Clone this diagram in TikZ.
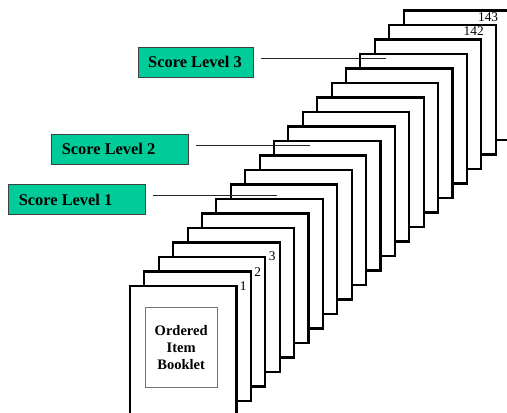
\documentclass[tikz,border=0pt]{standalone}
\usepackage{fontspec}
\setmainfont{Liberation Serif}
\usetikzlibrary{calc}
\definecolor{levelgreen}{HTML}{00CC99}
\begin{document}
\begin{tikzpicture}[x=0.75pt,y=-0.75pt,
  page/.style={draw=black, line width=1.6pt, fill=white, rectangle,
    inner sep=0pt, outer sep=0pt, minimum width=79.875pt, minimum height=97.125pt},
  pagenum/.style={inner sep=0pt, font=\fontsize{10}{12}\selectfont},
  level/.style={draw=black!75, line width=0.75pt, fill=levelgreen, rectangle,
    minimum height=22.5pt, inner xsep=7.5pt, inner ysep=0pt, anchor=west,
    font=\fontsize{12.3}{14}\selectfont\bfseries},
  booklet/.style={draw=black!55, line width=0.75pt, rectangle, inner sep=0pt,
    minimum width=54.2pt, minimum height=59.7pt, align=center,
    font=\fontsize{10.9}{12.75}\selectfont\bfseries},
  leader/.style={draw=black!85, line width=0.8pt}]
\path[use as bounding box] (0,0) rectangle (507,413);
\clip (0,0) rectangle (507,413);

% stack of pages, back to front
\foreach \k in {19,18,...,0}{
  \node[page] (p\k) at ({183.25+14.4*\k},{350.75-14.5*\k}) {};
}

% page numbers
\node[pagenum] (n1) at ($(p1.north east)+(-7.6,14.3)$) {1};
\node[pagenum] (n2) at ($(p2.north east)+(-7.5,14.7)$) {2};
\node[pagenum] (n3) at ($(p3.north east)+(-7.5,13.8)$) {3};
\node[pagenum] (n142) at ($(p18.north east)+(-22,6.3)$) {142};
\node[pagenum] (n143) at ($(p19.north east)+(-22,6.5)$) {143};

% title box on the front page
\node[booklet] (book) at (181.2,347.5) {Ordered\\Item\\Booklet};

% score level markers
\node[level] (s3) at (137.7,62.3) {\makebox[71.7pt][l]{Score Level 3}};
\node[level] (s2) at (51.3,149.2) {\makebox[87.75pt][l]{Score Level 2}};
\node[level] (s1) at (8.3,200) {\makebox[87.5pt][l]{Score Level 1}};

\coordinate (e3) at (386,58.3);
\coordinate (e2) at (310,145.3);
\coordinate (e1) at (276.5,195.5);
\draw[leader] ($(s3.east|-e3)+(6.7,0)$) -- (e3);
\draw[leader] ($(s2.east|-e2)+(6.7,0)$) -- (e2);
\draw[leader] ($(s1.east|-e1)+(6.7,0)$) -- (e1);
\end{tikzpicture}
\end{document}
